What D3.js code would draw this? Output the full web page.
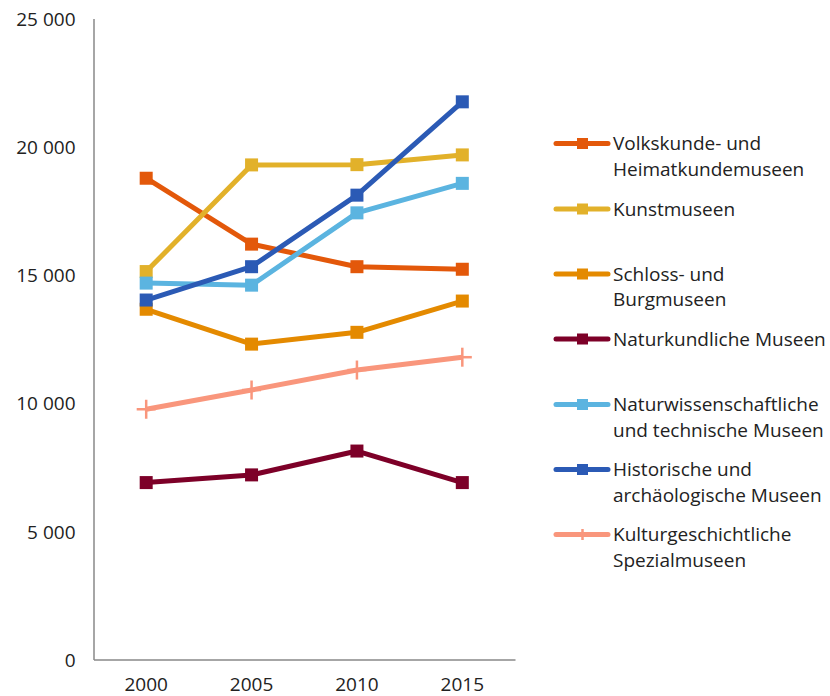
<!DOCTYPE html>
<html><head><meta charset="utf-8">
<script src="https://cdn.jsdelivr.net/npm/d3@7"></script>
<style>body{margin:0;background:#fff}svg{display:block}</style>
</head><body>
<svg id="chart" width="830" height="696"></svg>
<script>
const years = ["2000", "2005", "2010", "2015"];
const yTicks = [0, 5000, 10000, 15000, 20000, 25000];
const seriesNames = [
  ["Volkskunde- und", "Heimatkundemuseen"],
  ["Kunstmuseen"],
  ["Schloss- und", "Burgmuseen"],
  ["Naturkundliche Museen"],
  ["Naturwissenschaftliche", "und technische Museen"],
  ["Historische und", "archäologische Museen"],
  ["Kulturgeschichtliche", "Spezialmuseen"]
];
const volkskunde = [18770, 16200, 15320, 15220];
const kunst = [15130, 19290, 19300, 19680];
const schloss = [13660, 12300, 12760, 13980];
const naturkundlich = [6900, 7200, 8130, 6900];
const naturwiss = [14680, 14600, 17420, 18570];
const historisch = [14020, 15320, 18110, 21750];
const kultur = [9760, 10510, 11290, 11790];
const seriesValues = [volkskunde, kunst, schloss, naturkundlich, naturwiss, historisch, kultur];
const colors = ["#E3580A", "#E2B12A", "#E48A00", "#7D0028", "#5BB4E0", "#2B5AB5", "#F9967C"];
const markers = ["square", "square", "square", "square", "square", "square", "plus"];
const drawOrder = [6, 3, 2, 0, 1, 4, 5];

const svg = d3.select("#chart");
const font = "'Open Sans', sans-serif";
const x = d3.scaleBand().domain(years).range([93.5, 515]).padding(0);
const y = d3.scaleLinear().domain([0, 25000]).range([659.5, 18.5]);

// axes
const yAxis = svg.append("g").attr("transform", "translate(93.5,0)")
  .call(d3.axisLeft(y).tickValues(yTicks).tickSize(0)
    .tickFormat(d => d3.format(",")(d).replace(/,/g, " ")));
yAxis.select(".domain").attr("stroke", "#888").attr("stroke-width", 1.5);
yAxis.selectAll("text").attr("font-family", font).attr("font-size", 19).attr("fill", "#222")
  .attr("x", -18).attr("dy", "0.36em");

const xAxis = svg.append("g").attr("transform", "translate(0,659.5)")
  .call(d3.axisBottom(x).tickSize(0));
xAxis.select(".domain").attr("stroke", "#888").attr("stroke-width", 1.5);
xAxis.selectAll("text").attr("font-family", font).attr("font-size", 19).attr("fill", "#222")
  .attr("y", 31).attr("dy", 0);

const cx = d => x(d) + x.bandwidth() / 2;
const line = d3.line().x((d, i) => cx(years[i])).y(d => y(d));

function drawMarker(g, type, px, py, color, size, hw) {
  if (type === "square") {
    g.append("rect").attr("x", px - size / 2).attr("y", py - size / 2)
      .attr("width", size).attr("height", size).attr("fill", color);
  } else {
    g.append("line").attr("x1", px).attr("x2", px).attr("y1", py - size / 2).attr("y2", py + size / 2)
      .attr("stroke", color).attr("stroke-width", 2.5);
    g.append("line").attr("x1", px - hw).attr("x2", px + hw).attr("y1", py).attr("y2", py)
      .attr("stroke", color).attr("stroke-width", 2.5);
  }
}

drawOrder.forEach(i => {
  const g = svg.append("g");
  g.append("path").datum(seriesValues[i]).attr("d", line).attr("fill", "none")
    .attr("stroke", colors[i]).attr("stroke-width", 5).attr("stroke-linejoin", "round");
  seriesValues[i].forEach((v, j) =>
    drawMarker(g, markers[i], cx(years[j]), y(v), colors[i], markers[i] === "plus" ? 19 : 13, 9.5));
});

// legend
const legendY = [143.5, 209, 274, 339, 404.5, 469.5, 534.5];
const leg = svg.append("g");
seriesNames.forEach((name, i) => {
  const ly = legendY[i];
  leg.append("line").attr("x1", 556).attr("x2", 608).attr("y1", ly).attr("y2", ly)
    .attr("stroke", colors[i]).attr("stroke-width", 5).attr("stroke-linecap", "round");
  drawMarker(leg, markers[i], 582.5, ly, colors[i], 11, 0);
  const t = leg.append("text").attr("x", 613).attr("y", ly + 6.5)
    .attr("font-family", font).attr("font-size", 19).attr("fill", "#222");
  name.forEach((s, k) => t.append("tspan").attr("x", 613).attr("dy", k === 0 ? 0 : 25.5).text(s));
});
</script>
</body></html>
